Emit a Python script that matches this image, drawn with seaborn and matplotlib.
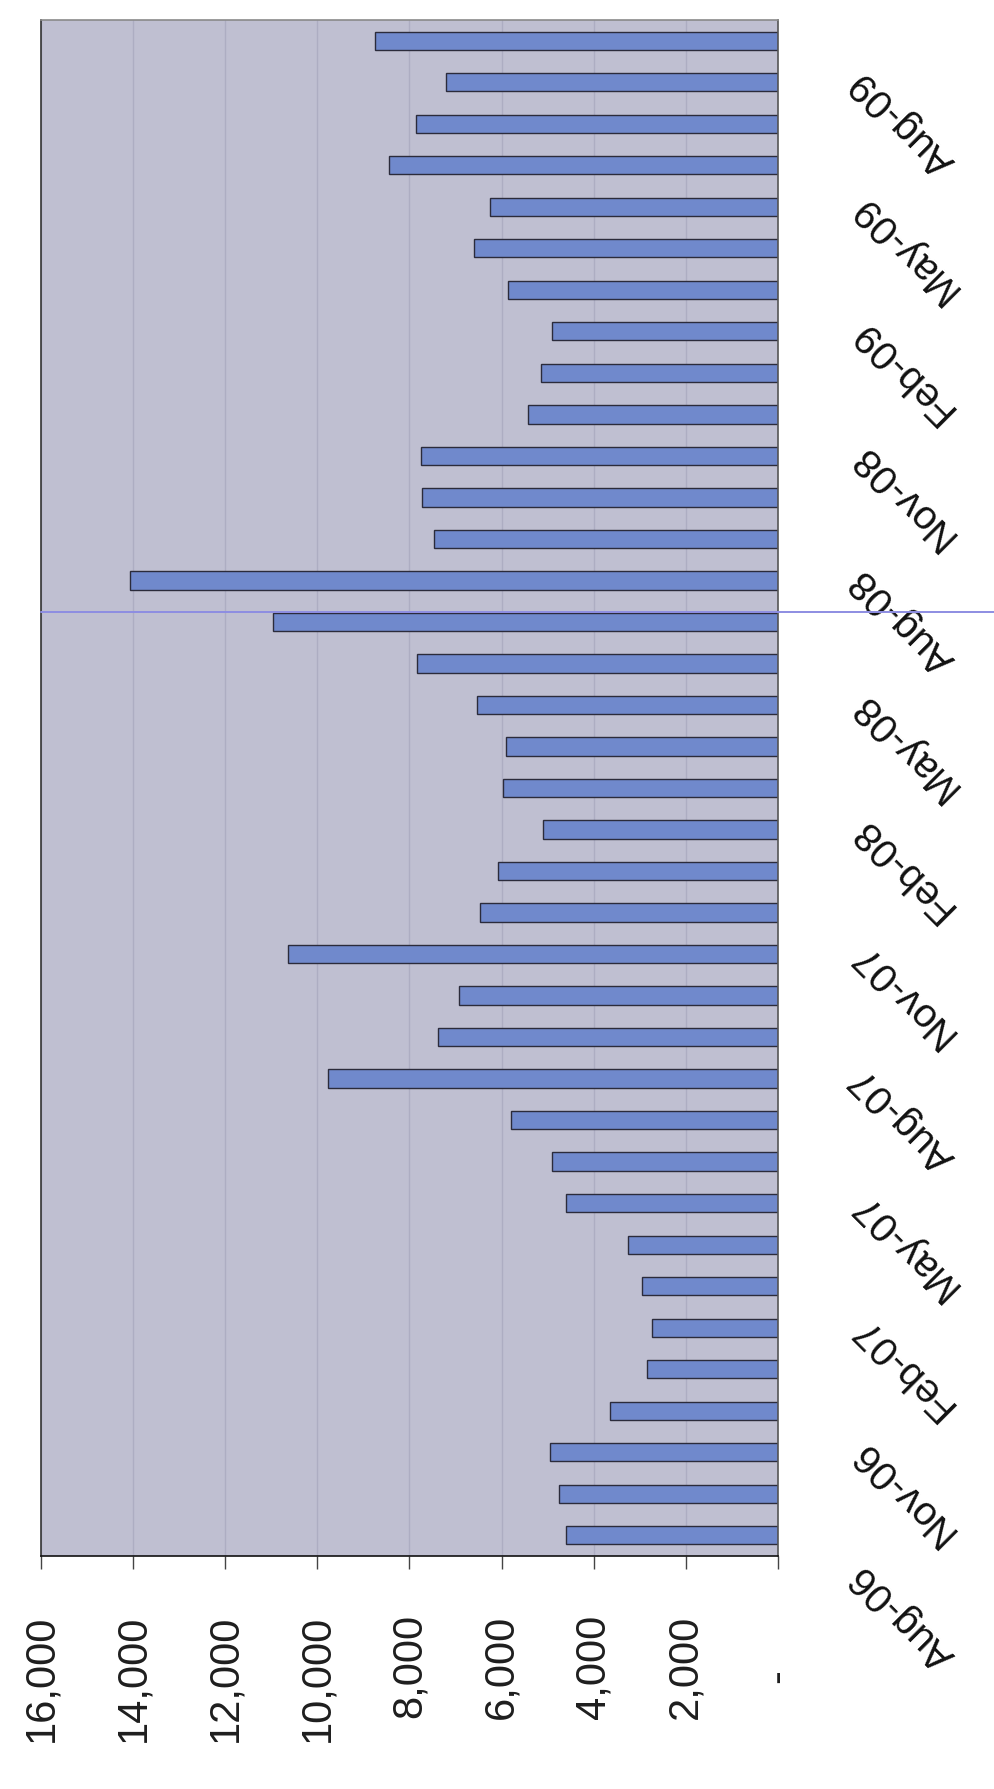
import matplotlib
matplotlib.use("Agg")
import matplotlib.pyplot as plt
import seaborn as sns
import pandas as pd
from matplotlib.transforms import ScaledTranslation
from matplotlib.lines import Line2D

# ---- data (chronological) ----
months = ["Aug-06", "Sep-06", "Oct-06", "Nov-06", "Dec-06", "Jan-07", "Feb-07", "Mar-07",
          "Apr-07", "May-07", "Jun-07", "Jul-07", "Aug-07", "Sep-07", "Oct-07", "Nov-07",
          "Dec-07", "Jan-08", "Feb-08", "Mar-08", "Apr-08", "May-08", "Jun-08", "Jul-08",
          "Aug-08", "Sep-08", "Oct-08", "Nov-08", "Dec-08", "Jan-09", "Feb-09", "Mar-09",
          "Apr-09", "May-09", "Jun-09", "Jul-09", "Aug-09"]
values = [4600, 4750, 4940, 3650, 2850, 2740, 2950, 3260,
          4600, 4910, 5790, 9770, 7380, 6930, 10640, 6460,
          6080, 5100, 5970, 5900, 6540, 7830, 10970, 14060,
          7460, 7720, 7750, 5430, 5140, 4910, 5870, 6600,
          6260, 8450, 7860, 7200, 8750]
labeled_months = ["Aug-06", "Nov-06", "Feb-07", "May-07", "Aug-07", "Nov-07", "Feb-08",
                  "May-08", "Aug-08", "Nov-08", "Feb-09", "May-09", "Aug-09"]
value_ticks = [16000, 14000, 12000, 10000, 8000, 6000, 4000, 2000, 0]
value_tick_labels = ["16,000", "14,000", "12,000", "10,000", "8,000", "6,000", "4,000", "2,000", "-"]

sns.set_theme(style="white")
plt.rcParams["font.family"] = ["Liberation Sans", "DejaVu Sans"]

W, H = 995, 1789
fig = plt.figure(figsize=(W / 100, H / 100), dpi=100)
fig.patch.set_facecolor("white")
left, right, top, bottom = 41, 778, 20, 1556
ax = fig.add_axes([left / W, 1 - bottom / H, (right - left) / W, (bottom - top) / H])

df = pd.DataFrame({"month": months, "value": values})
order = months[::-1]  # latest at the top
sns.barplot(data=df, y="month", x="value", order=order, orient="h",
            color="#7089CC", saturation=1, width=0.44,
            edgecolor="#2b2b3b", linewidth=1.0, ax=ax)

ax.set_facecolor("#BFBFD1")
ax.set_xlim(16000, 0)
ax.set_ylim(len(order) - 0.5, -0.5)
ax.set_xlabel("")
ax.set_ylabel("")

# value axis (bottom), labels rotated
ax.set_xticks(value_ticks)
ax.set_xticklabels(value_tick_labels, rotation=90, ha="center", va="top",
                   fontsize=30, color="#1e1e1e")
ax.tick_params(axis="x", direction="out", length=9, width=1, color="#444444", pad=33,
               bottom=True)
# zero label "-" sits lower
zl = ax.get_xticklabels()[-1]
zl.set_transform(zl.get_transform() + ScaledTranslation(0, -0.55, fig.dpi_scale_trans))

ax.xaxis.grid(True, color="#ADADC2", linewidth=1.0)
ax.yaxis.grid(False)
ax.set_axisbelow(True)

# category axis (right side), diagonal labels
pos = [order.index(m) for m in labeled_months]
ax.set_yticks(pos)
ax.set_yticklabels(labeled_months)
ax.yaxis.tick_right()
ax.tick_params(axis="y", length=0, pad=0, left=False, right=False,
               labelleft=False, labelright=True)
off = ScaledTranslation(0.65, -0.22, fig.dpi_scale_trans)
for t in ax.yaxis.get_major_ticks():
    lab = t.label2
    lab.set_rotation(135)
    lab.set_rotation_mode("default")
    lab.set_ha("left")
    lab.set_va("top")
    lab.set_fontsize(29)
    lab.set_color("#111111")
    lab.set_transform(lab.get_transform() + off)

for side, c in [("left", "#333333"), ("bottom", "#111111"), ("right", "#555555"), ("top", "#8a8a8a")]:
    ax.spines[side].set_visible(True)
    ax.spines[side].set_color(c)
    ax.spines[side].set_linewidth(1.2)

# faint scanner line across the page
fig.add_artist(Line2D([left / W, 1.0], [1 - 612 / H, 1 - 612 / H], transform=fig.transFigure,
                      color="#8D8DE2", linewidth=1.4))

fig.savefig("out.png", dpi=100, facecolor="white")
